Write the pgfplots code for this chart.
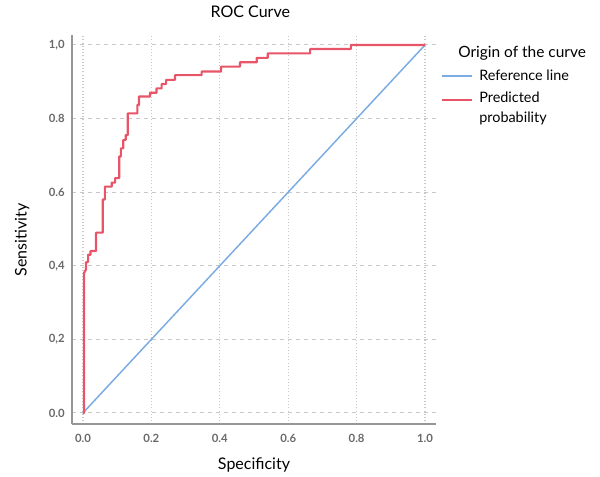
\documentclass[border=0pt]{standalone}
\usepackage{pgfplots}
\pgfplotsset{compat=1.18}
\usepackage{fontspec}
\setmainfont{Lato}
\definecolor{rocred}{RGB}{232,84,104}
\definecolor{refblue}{RGB}{122,172,226}
\definecolor{axgray}{RGB}{150,150,150}
\definecolor{gridgray}{RGB}{200,200,200}
\definecolor{tickgray}{RGB}{105,105,105}
% legend sample raised to the first line of a two-line entry
\pgfplotsset{raisedlegend/.style={legend image code/.code={%
    \path (0pt,-6pt) (25pt,0pt); \draw[##1] (0pt,6pt) -- (22pt,6pt);}}}

\begin{document}
\begin{tikzpicture}[x=0.75pt,y=0.75pt]
% fixed page size: 600x476 px, axis box from (72,35) to (436,424)
\path[use as bounding box] (-72,-52) rectangle (528,424);
\begin{axis}[
    at={(0,0)}, anchor=south west,
    scale only axis,
    width=273pt, height=291.75pt,
    xmin=-0.032, xmax=1.032,
    ymin=-0.03, ymax=1.027,
    axis x line=bottom, axis y line=left,
    axis line style={-, axgray, line width=1.1pt},
    major tick length=0pt,
    xtick={0,0.2,0.4,0.6,0.8,1},
    xticklabels={0.0,0.2,0.4,0.6,0.8,1.0},
    ytick={0,0.2,0.4,0.6,0.8,1},
    yticklabels={{0.0},{0,2},{0,4},{0.6},{0.8},{1,0}},
    tick label style={font=\fontsize{8.5}{10}\selectfont\bfseries, text=tickgray},
    xticklabel style={yshift=-4pt},
    yticklabel style={xshift=-2pt},
    grid=major,
    x grid style={dotted, gridgray, line width=0.9pt},
    y grid style={dash pattern=on 3pt off 3pt, gridgray, line width=0.75pt},
    title={ROC Curve},
    title style={font=\fontsize{12}{14}\selectfont, at={(axis description cs:0.49,1)}, anchor=center, yshift=11.25pt},
    xlabel={Specificity},
    ylabel={Sensitivity},
    every axis x label/.style={at={(axis description cs:0.5,0)}, anchor=center, yshift=-30.75pt, font=\fontsize{12}{14}\selectfont},
    every axis y label/.style={at={(axis description cs:-0.137,0.473)}, anchor=center, rotate=90, font=\fontsize{12}{14}\selectfont},
    legend image code/.code={\path (25pt,0pt); \draw[#1] (0pt,0pt) -- (22pt,0pt);},
    legend style={at={(rel axis cs:1.0135,0.918)}, anchor=north west,
        draw=none, fill=none, inner sep=0pt,
        font=\fontsize{10.8}{15}\selectfont,
        cells={anchor=west, align=left},
        row sep=3pt},
    legend cell align=left,
    clip=false,
]
\addplot[refblue, line width=1.1pt] coordinates {(0,0) (1,1)};
\addlegendentry{Reference line}

\addplot[rocred, line width=1.6pt, line join=round, raisedlegend] coordinates {
    (0,0) (0.003,0) (0.003,0.38) (0.009,0.39) (0.009,0.41) (0.015,0.41)
    (0.015,0.43) (0.022,0.43) (0.022,0.44) (0.038,0.44) (0.038,0.49)
    (0.058,0.49) (0.058,0.58) (0.064,0.58) (0.064,0.615) (0.084,0.615)
    (0.084,0.626) (0.094,0.626) (0.094,0.638) (0.106,0.638) (0.106,0.697)
    (0.111,0.697) (0.111,0.719) (0.118,0.719) (0.118,0.742) (0.125,0.742)
    (0.125,0.755) (0.131,0.755) (0.131,0.814) (0.159,0.814) (0.159,0.837)
    (0.164,0.837) (0.164,0.86) (0.196,0.86) (0.196,0.87) (0.215,0.87)
    (0.215,0.882) (0.23,0.882) (0.23,0.894) (0.243,0.894) (0.243,0.905)
    (0.269,0.905) (0.269,0.918) (0.347,0.918) (0.347,0.928) (0.404,0.928)
    (0.404,0.941) (0.459,0.941) (0.459,0.953) (0.508,0.953) (0.508,0.965)
    (0.54,0.965) (0.54,0.977) (0.664,0.977) (0.664,0.989) (0.783,0.989)
    (0.783,1) (1,1)
};
\addlegendentry{Predicted\\probability}

\node[anchor=base west, inner sep=0pt, font=\fontsize{11.6}{14}\selectfont]
    at (rel axis cs:1.0604,0.9434) {Origin of the curve};
\end{axis}
\end{tikzpicture}
\end{document}
